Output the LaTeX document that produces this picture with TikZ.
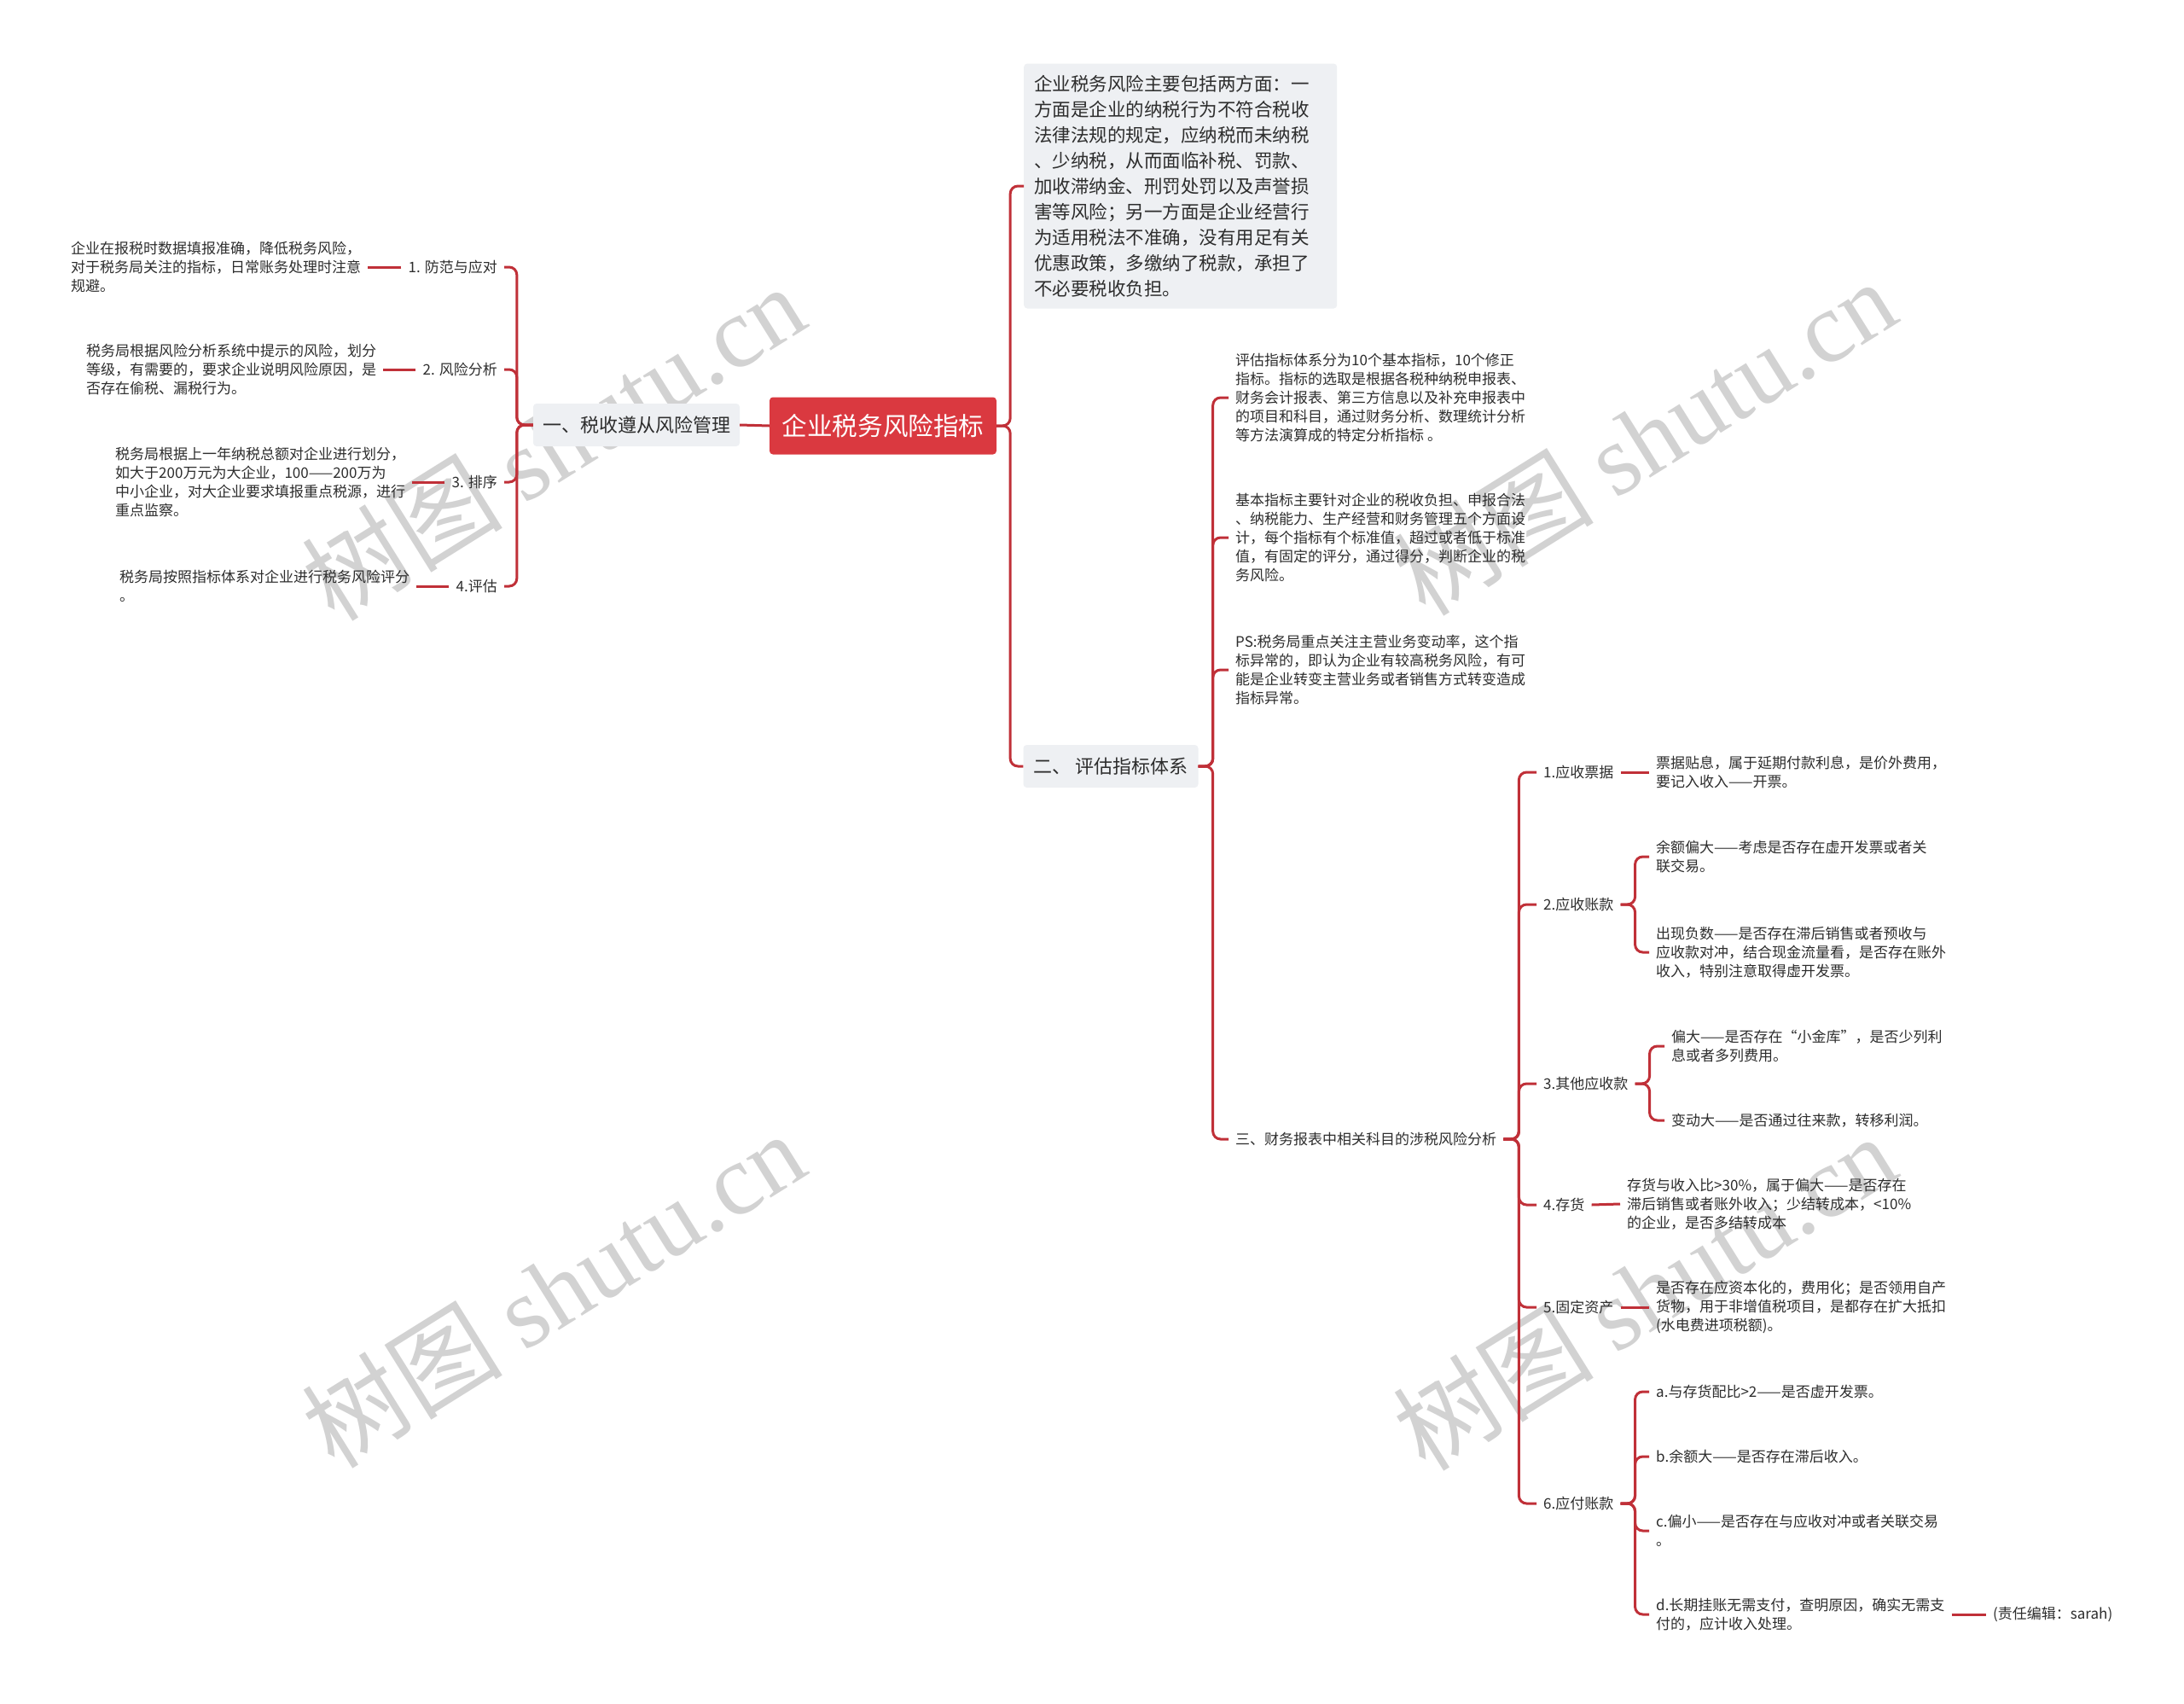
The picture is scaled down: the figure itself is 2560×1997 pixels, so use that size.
\documentclass[tikz,border=0pt]{standalone}
\usepackage{fontspec}
\setmainfont{Noto Sans CJK SC}
\newfontfamily\markfont{Liberation Serif}
\usepackage{tikz}
\usetikzlibrary{positioning}
\definecolor{RootColor}{RGB}{218,57,64}
\definecolor{LineColor}{RGB}{192,48,56}
\definecolor{BoxColor}{RGB}{238,240,243}
\definecolor{TextColor}{RGB}{45,45,45}
\definecolor{MarkColor}{RGB}{210,210,210}
\tikzset{
  riskroot/.style={fill=RootColor, text=white, rounded corners=4pt, minimum width=266pt, minimum height=67pt, inner sep=0pt, font=\fontsize{29.6}{34}\selectfont},
  risktopic/.style={fill=BoxColor, text=TextColor, rounded corners=4pt, minimum height=50pt, inner sep=0pt, font=\fontsize{22}{26}\selectfont},
  riskleaf/.style={text=TextColor, align=left, inner xsep=8pt, inner ysep=2pt, font=\fontsize{17}{22}\selectfont},
  risklink/.style={draw=LineColor, line width=3pt, rounded corners=9pt},
  riskmark/.style={text=MarkColor, rotate=32, inner sep=0pt, font=\fontsize{118}{118}\selectfont},
}

\begin{document}
\begin{tikzpicture}[x=1pt, y=-1pt]
      \fill[white] (0,0) rectangle (2560,1997);
      \useasboundingbox (0,0) rectangle (2560,1997);

      \node[riskmark] (m1) at (648,518) {树图 {\markfont shutu.cn}};
      \node[riskmark] (m2) at (648,1511) {树图 {\markfont shutu.cn}};
      \node[riskmark] (m3) at (1927,512) {树图 {\markfont shutu.cn}};
      \node[riskmark] (m4) at (1927,1514) {树图 {\markfont shutu.cn}};

      \node[riskroot] (root) at (1035,499) {企业税务风险指标};
      \node[risktopic, minimum width=242pt] (n1) at (746,498) {一、税收遵从风险管理};
      \node[risktopic, minimum width=205pt] (n2) at (1302,898) {二、 评估指标体系};
      \node[risktopic, anchor=west, text width=343pt, align=left, minimum height=287pt, inner xsep=12pt,
            font=\fontsize{21.5}{30}\selectfont] (desc) at (1200,218)
        {企业税务风险主要包括两方面：一\\方面是企业的纳税行为不符合税收\\法律法规的规定，应纳税而未纳税\\、少纳税，从而面临补税、罚款、\\加收滞纳金、刑罚处罚以及声誉损\\害等风险；另一方面是企业经营行\\为适用税法不准确，没有用足有关\\优惠政策，多缴纳了税款，承担了\\不必要税收负担。};

      \node[riskleaf, anchor=east] (l1) at (591,313) {1. 防范与应对};
      \node[riskleaf, anchor=east] (l2) at (591,433) {2. 风险分析};
      \node[riskleaf, anchor=east] (l3) at (591,565) {3. 排序};
      \node[riskleaf, anchor=east] (l4) at (591,687) {4.评估};
      \node[riskleaf, anchor=west] (t11) at (75,313) {企业在报税时数据填报准确，降低税务风险，\\对于税务局关注的指标，日常账务处理时注意\\规避。};
      \node[riskleaf, anchor=west] (t12) at (93,433) {税务局根据风险分析系统中提示的风险，划分\\等级，有需要的，要求企业说明风险原因，是\\否存在偷税、漏税行为。};
      \node[riskleaf, anchor=west] (t13) at (127,565) {税务局根据上一年纳税总额对企业进行划分，\\如大于200万元为大企业，100——200万为\\中小企业，对大企业要求填报重点税源，进行\\重点监察。};
      \node[riskleaf, anchor=west] (t14) at (132,687) {税务局按照指标体系对企业进行税务风险评分\\。};

      \node[riskleaf, anchor=west] (b1) at (1440,466) {评估指标体系分为10个基本指标，10个修正\\指标。指标的选取是根据各税种纳税申报表、\\财务会计报表、第三方信息以及补充申报表中\\的项目和科目，通过财务分析、数理统计分析\\等方法演算成的特定分析指标 。};
      \node[riskleaf, anchor=west] (b2) at (1440,630) {基本指标主要针对企业的税收负担、申报合法\\、纳税能力、生产经营和财务管理五个方面设\\计，每个指标有个标准值，超过或者低于标准\\值，有固定的评分，通过得分，判断企业的税\\务风险。};
      \node[riskleaf, anchor=west] (b3) at (1440,785) {PS:税务局重点关注主营业务变动率，这个指\\标异常的，即认为企业有较高税务风险，有可\\能是企业转变主营业务或者销售方式转变造成\\指标异常。};
      \node[riskleaf, anchor=west] (n3) at (1440,1335) {三、财务报表中相关科目的涉税风险分析};

      \node[riskleaf, anchor=west] (c1) at (1801,905) {1.应收票据};
      \node[riskleaf, anchor=west] (c2) at (1801,1060) {2.应收账款};
      \node[riskleaf, anchor=west] (c3) at (1801,1270) {3.其他应收款};
      \node[riskleaf, anchor=west] (c4) at (1801,1412) {4.存货};
      \node[riskleaf, anchor=west] (c5) at (1801,1532) {5.固定资产};
      \node[riskleaf, anchor=west] (c6) at (1801,1762) {6.应付账款};

      \node[riskleaf, anchor=west] (c1t) at (1933,905) {票据贴息，属于延期付款利息，是价外费用，\\要记入收入——开票。};
      \node[riskleaf, anchor=west] (c2a) at (1933,1004) {余额偏大——考虑是否存在虚开发票或者关\\联交易。};
      \node[riskleaf, anchor=west] (c2b) at (1933,1116) {出现负数——是否存在滞后销售或者预收与\\应收款对冲，结合现金流量看，是否存在账外\\收入，特别注意取得虚开发票。};
      \node[riskleaf, anchor=west] (c3a) at (1951,1226) {偏大——是否存在“小金库”，是否少列利\\息或者多列费用。};
      \node[riskleaf, anchor=west] (c3b) at (1951,1313) {变动大——是否通过往来款，转移利润。};
      \node[riskleaf, anchor=west] (c4t) at (1899,1411) {存货与收入比>30\%，属于偏大——是否存在\\滞后销售或者账外收入；少结转成本，<10\%\\的企业，是否多结转成本};
      \node[riskleaf, anchor=west] (c5t) at (1933,1532) {是否存在应资本化的，费用化；是否领用自产\\货物，用于非增值税项目，是都存在扩大抵扣\\(水电费进项税额)。};
      \node[riskleaf, anchor=west] (c6a) at (1933,1631) {a.与存货配比>2——是否虚开发票。};
      \node[riskleaf, anchor=west] (c6b) at (1933,1707) {b.余额大——是否存在滞后收入。};
      \node[riskleaf, anchor=west] (c6c) at (1933,1794) {c.偏小——是否存在与应收对冲或者关联交易\\。};
      \node[riskleaf, anchor=west] (c6d) at (1933,1892) {d.长期挂账无需支付，查明原因，确实无需支\\付的，应计收入处理。};
      \node[riskleaf, anchor=west] (note) at (2328,1892) {(责任编辑：sarah)};

      \draw[risklink] (root.west) -- (n1.east);
      \foreach \i in {1,...,4} \draw[risklink] (n1.west) -- ++(-19,0) |- (l\i.east);
      \foreach \i in {1,...,4} \draw[risklink] (l\i.west) -- (t1\i.east);

      \draw[risklink] (root.east) -- ++(16,0) |- (desc.west);
      \draw[risklink] (root.east) -- ++(16,0) |- (n2.west);
      \foreach \b in {b1,b2,b3,n3} \draw[risklink] (n2.east) -- ++(17,0) |- (\b.west);

      \foreach \i in {1,...,6} \draw[risklink] (n3.east) -- ++(18,0) |- (c\i.west);
      \draw[risklink] (c1.east) -- (c1t.west);
      \draw[risklink] (c2.east) -- ++(17,0) |- (c2a.west);
      \draw[risklink] (c2.east) -- ++(17,0) |- (c2b.west);
      \draw[risklink] (c3.east) -- ++(17,0) |- (c3a.west);
      \draw[risklink] (c3.east) -- ++(17,0) |- (c3b.west);
      \draw[risklink] (c4.east) -- (c4t.west);
      \draw[risklink] (c5.east) -- (c5t.west);
      \foreach \j in {a,b,c,d} \draw[risklink] (c6.east) -- ++(17,0) |- (c6\j.west);
      \draw[risklink] (c6d.east) -- (note.west);
    \end{tikzpicture}
\end{document}
